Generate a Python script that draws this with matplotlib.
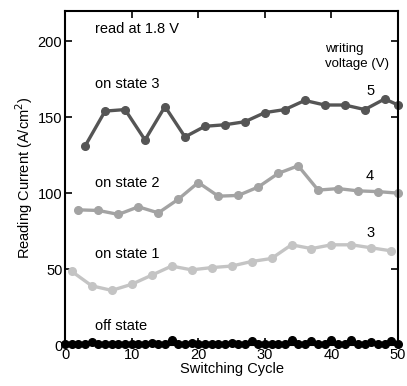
import matplotlib
matplotlib.use('Agg')
import matplotlib.pyplot as plt

plt.rcParams['font.family'] = ['Liberation Sans', 'DejaVu Sans']

# 5 V writing
x5 = [3, 6, 9, 12, 15, 18, 21, 24, 27, 30, 33, 36, 39, 42, 45, 48, 50]
y5 = [131, 154, 155, 135, 157, 137, 144, 145, 147, 153, 155, 161, 158, 158, 155, 162, 158]

# 4 V writing
x4 = [2, 5, 8, 11, 14, 17, 20, 23, 26, 29, 32, 35, 38, 41, 44, 47, 50]
y4 = [89, 88.6, 86, 91, 87, 96, 107, 98, 98.5, 104, 113, 118, 102, 103, 101.5, 101, 100]

# 3 V writing
x3 = [1, 4, 7, 10, 13, 16, 19, 22, 25, 28, 31, 34, 37, 40, 43, 46, 49]
y3 = [48.5, 39, 36, 40, 46, 52, 49.5, 51, 52, 55, 57, 66, 63.5, 66, 66, 64, 62]

# off state
x_off = list(range(0, 51))
y_off = [0.5, 0.8, 0.5, 0.9, 1.8, 0.6, 0.4, 0.9, 0.5, 0.7, 1.0, 0.5, 0.8, 1.5, 0.6, 0.5,
         3.5, 0.6, 0.5, 1.5, 0.7, 0.5, 1.0, 0.6, 0.5, 1.6, 0.7, 0.5, 2.8, 0.8, 0.6, 1.0,
         0.5, 0.7, 3.2, 0.6, 0.9, 2.5, 0.6, 0.8, 3.5, 0.6, 0.8, 3.6, 0.7, 0.9, 2.3, 0.6,
         0.8, 2.8, 0.6]

fig = plt.figure(figsize=(4.07, 3.86), dpi=100)
ax = fig.add_axes([0.160, 0.106, 0.818, 0.866])

ax.plot(x_off, y_off, '-o', color='black', lw=2.2, ms=5.5, clip_on=False, zorder=3)
ax.plot(x3, y3, '-o', color='#c4c4c4', lw=2.4, ms=5.5, clip_on=False)
ax.plot(x4, y4, '-o', color='#a3a3a3', lw=2.4, ms=5.5, clip_on=False)
ax.plot(x5, y5, '-o', color='#555555', lw=2.4, ms=5.5, clip_on=False)

ax.set_xlim(0, 50)
ax.set_ylim(0, 220)
ax.set_xticks([0, 10, 20, 30, 40, 50])
ax.set_yticks([0, 50, 100, 150, 200])
ax.tick_params(direction='in', top=True, right=True, length=5, width=1.2,
               labelsize=10.5, pad=2)
for s in ax.spines.values():
    s.set_linewidth(1.5)

ax.set_xlabel('Switching Cycle', fontsize=10.5, labelpad=0)
ax.set_ylabel('Reading Current (A/cm$^2$)', fontsize=10.5, labelpad=2)

ax.text(4.5, 208, 'read at 1.8 V', fontsize=10.5, va='center')
ax.text(4.5, 172, 'on state 3', fontsize=10.5, va='center')
ax.text(4.5, 107, 'on state 2', fontsize=10.5, va='center')
ax.text(4.5, 60, 'on state 1', fontsize=10.5, va='center')
ax.text(4.5, 12.5, 'off state', fontsize=10.5, va='center')
ax.text(39, 190, 'writing\nvoltage (V)', fontsize=9.5, va='center', linespacing=1.3)
ax.text(45.8, 167, '5', fontsize=10.5, va='center', ha='center')
ax.text(45.8, 111, '4', fontsize=10.5, va='center', ha='center')
ax.text(45.8, 74, '3', fontsize=10.5, va='center', ha='center')

fig.savefig('out.png', dpi=100)
